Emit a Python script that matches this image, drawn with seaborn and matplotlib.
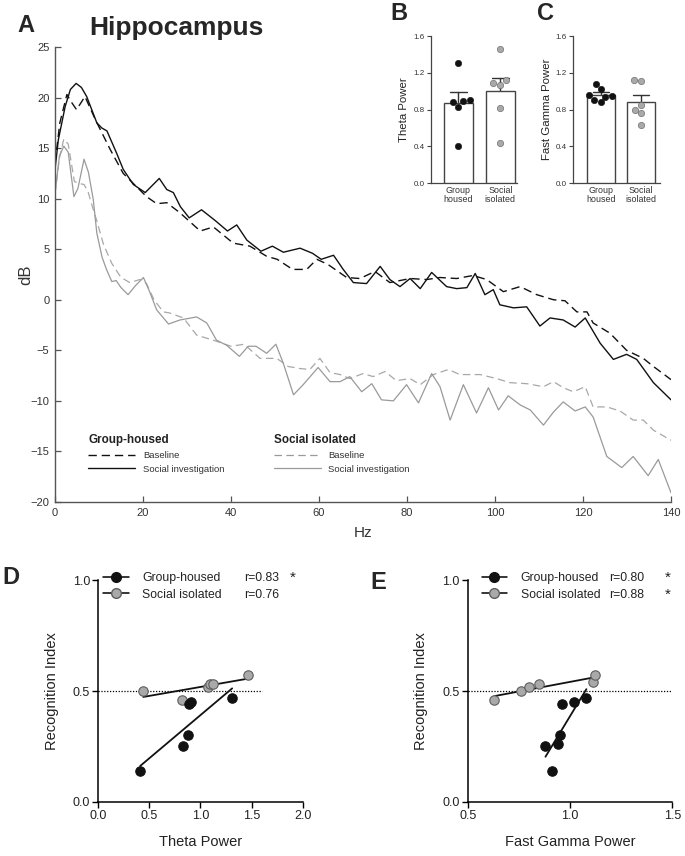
import matplotlib
matplotlib.use("Agg")
import matplotlib.pyplot as plt
from matplotlib.lines import Line2D
import pandas as pd
import seaborn as sns

# ---- panel A: hippocampal spectra (Hz, dB)
gh_base_hz = [0, 1.1, 2.7, 3.8, 4.9, 6.8, 9.3, 12.5, 15.5, 17.8, 20.8, 23.1, 25.4, 28.4, 33, 36, 40.5, 44.3,
              48.1, 50.5, 54, 57.2, 59.5, 62, 66.3, 69.3, 72.7, 76.1, 80.7, 84.5, 87.5, 91.3, 95, 98.1, 101.9,
              105.7, 109.5, 113.3, 115.9, 118.6, 120.9, 122.3, 126.1, 129.9, 133.7, 136, 140]
gh_base_db = [13.5, 17.5, 20.3, 19.5, 18.8, 20.1, 17.7, 14.9, 12.5, 11.5, 10.2, 9.5, 9.6, 8.6, 6.8, 7.2, 5.6, 5.3,
              4.3, 4.0, 3.0, 3.0, 4.0, 3.5, 2.2, 2.1, 2.8, 1.7, 2.1, 2.0, 2.2, 2.1, 2.4, 2.0, 0.8,
              1.3, 0.5, 0.0, -0.1, -1.2, -1.2, -2.3, -3.3, -5.0, -5.8, -6.6, -7.9]

gh_soc_hz = [0, 0.75, 2.3, 3.5, 4.8, 6, 7.2, 9.5, 10.6, 11.8, 14, 15.5, 17.8, 20.5, 23.7, 25.4, 26.9, 28.5, 30.5,
             33.3, 36.5, 39.2, 41.3, 43.6, 46.8, 49.4, 51.9, 55.7, 58.5, 60.5, 63.3, 65.5, 67.8, 70.8, 73.9, 76.1,
             78.4, 80.7, 83, 85.6, 89, 91.3, 93.6, 95.5, 97.7, 99.6, 101.1, 104.2, 107.2, 110.2, 112.5, 115.5,
             118.2, 120.5, 123.9, 126.9, 129.9, 132.2, 136, 140]
gh_soc_db = [12.9, 15.8, 19.1, 20.8, 21.4, 21.0, 20.1, 17.5, 17.0, 16.7, 14.5, 12.9, 11.4, 10.6, 12.0, 10.9, 10.6,
             9.2, 8.1, 8.9, 7.8, 6.8, 7.4, 5.9, 4.8, 5.3, 4.7, 5.1, 4.6, 4.0, 4.4, 3.0, 1.7, 1.6, 3.3, 2.0,
             1.3, 2.1, 1.1, 2.7, 1.3, 1.1, 1.2, 2.6, 0.5, 1.0, -0.5, -0.8, -0.7, -2.6, -1.8, -2.0,
             -2.7, -1.8, -4.3, -5.9, -5.4, -5.9, -8.2, -9.9]

si_base_hz = [0, 1, 2, 3, 4.4, 5.5, 6.6, 7.5, 8.5, 9.5, 11, 12.9, 15, 17, 19.3, 20.8, 22.5, 24.6, 26, 29.2, 32.2,
              36.7, 40, 43, 46.6, 50.4, 53, 55.6, 57.9, 60.2, 62.5, 64.8, 67, 70, 72.3, 75, 77.6, 80.7, 83, 86,
              89.4, 92, 96.6, 100.4, 103.4, 107.2, 111, 113.3, 115.5, 117.8, 120.5, 122.3, 125.4, 128.4, 131.4,
              133.7, 136, 140]
si_base_db = [10.5, 14.0, 15.9, 15.4, 11.7, 11.5, 11.4, 10.7, 9.2, 7.8, 5.5, 3.6, 2.2, 1.7, 2.0, 1.6, 0.0, -1.2,
              -1.3, -1.8, -3.5, -4.1, -4.6, -4.4, -5.8, -5.8, -6.6, -6.8, -6.9, -5.8, -7.2, -7.4, -7.8, -7.3,
              -7.6, -7.1, -8.0, -7.8, -8.4, -7.4, -6.9, -7.4, -7.4, -7.8, -8.2, -8.3, -8.6, -8.1, -8.7, -9.1,
              -8.6, -10.6, -10.6, -11.0, -11.9, -11.9, -12.9, -13.9]

si_soc_hz = [0, 1, 2, 3, 4.3, 5.2, 6.6, 7.6, 8.7, 9.5, 10.7, 11.7, 12.9, 13.9, 15, 16.6, 18.3, 20.1, 21.5, 23.1,
             25.8, 28.4, 32.2, 34.5, 36.7, 39, 41.9, 43.9, 45.7, 48.1, 50.2, 51.9, 54.2, 56.4, 59.8, 62.5, 64.8,
             67, 69.7, 72, 74.2, 76.9, 79.9, 82.6, 85.6, 87.5, 89.8, 92.8, 95.8, 98.5, 100.8, 103, 105.7, 108,
             111, 113.3, 115.5, 118.2, 120.5, 122.3, 125.4, 128.8, 131.4, 134.8, 137.1, 140]
si_soc_db = [10.5, 14.2, 15.2, 14.6, 10.2, 11.0, 13.9, 12.6, 9.9, 6.6, 4.2, 3.0, 1.8, 1.9, 1.2, 0.5, 1.4, 2.2,
             0.8, -1.0, -2.4, -2.0, -1.7, -2.3, -4.0, -4.5, -5.6, -4.6, -4.6, -5.3, -4.4, -6.3, -9.4, -8.4,
             -6.7, -8.1, -8.1, -7.6, -9.1, -8.3, -9.9, -10.0, -8.4, -10.2, -7.3, -8.6, -11.9, -8.4, -11.2,
             -8.7, -10.9, -9.5, -10.4, -10.9, -12.4, -11.1, -10.1, -11.0, -10.6, -11.6, -15.5, -16.6, -15.5,
             -17.4, -15.8, -19.1]

# ---- panels B-E: per animal values
groups = ["Group\nhoused", "Social\nisolated"]
gh_theta = [0.41, 0.83, 0.88, 0.89, 0.91, 1.31]
si_theta = [0.44, 0.82, 1.07, 1.09, 1.12, 1.46]
gh_gamma = [0.88, 0.91, 0.94, 0.95, 0.96, 1.02, 1.08]
si_gamma = [0.63, 0.76, 0.80, 0.85, 1.11, 1.12]
gh_ri_theta = [0.14, 0.25, 0.30, 0.44, 0.45, 0.47]
si_ri_theta = [0.50, 0.46, 0.52, 0.53, 0.53, 0.57]
gh_ri_gamma = [0.25, 0.14, 0.26, 0.30, 0.44, 0.45, 0.47]
si_ri_gamma = [0.46, 0.50, 0.52, 0.53, 0.54, 0.57]
r_theta = ["r=0.83", "r=0.76"]
r_gamma = ["r=0.80", "r=0.88"]
sig_theta = ["*", ""]
sig_gamma = ["*", "*"]
chance = 0.5

BLACK = "#111111"
GRAY_LINE = "#9a9a9a"
GRAY_DASH = "#a8a8a8"
GRAY_DOT = "#a9a9a9"
GRAY_EDGE = "#5e5e5e"
AX_COL = "#555555"

sns.set_theme(style="ticks")
plt.rcParams["font.family"] = ["Liberation Sans", "DejaVu Sans"]

fig = plt.figure(figsize=(6.85, 8.56), dpi=100)

# ================= A =================
axA = fig.add_axes([0.0803, 0.4136, 0.8993, 0.5315])
sns.lineplot(x=gh_base_hz, y=gh_base_db, color=BLACK, lw=1.0, ax=axA)
axA.lines[-1].set_dashes([6, 3.5])
sns.lineplot(x=gh_soc_hz, y=gh_soc_db, color=BLACK, lw=1.0, ax=axA)
sns.lineplot(x=si_base_hz, y=si_base_db, color=GRAY_DASH, lw=0.9, ax=axA)
axA.lines[-1].set_dashes([6, 3.5])
sns.lineplot(x=si_soc_hz, y=si_soc_db, color=GRAY_LINE, lw=0.9, ax=axA)

axA.set_xlim(0, 140)
axA.set_ylim(-20, 25)
axA.set_xticks(range(0, 141, 20))
axA.set_yticks(range(-20, 26, 5))
sns.despine(ax=axA)
for s in ["left", "bottom"]:
    axA.spines[s].set_color(AX_COL)
    axA.spines[s].set_linewidth(1.0)
axA.tick_params(direction="in", length=4, width=0.9, color=AX_COL, labelsize=8, labelcolor="#333333", pad=4)
axA.set_xlabel("Hz", fontsize=11, color="#333333", labelpad=6)
axA.set_ylabel("dB", fontsize=12, color="#333333")
axA.yaxis.set_label_coords(-0.036, 0.5)

def spectra_legend(x, title, color, lw):
    h1 = Line2D([0], [0], color=color, lw=lw, dashes=[6, 3.5])
    h2 = Line2D([0], [0], color=color, lw=lw)
    leg = axA.legend([h1, h2], ["Baseline", "Social investigation"], title=title, loc="upper left",
                     bbox_to_anchor=(x, 0.149), frameon=False, fontsize=6.8,
                     title_fontproperties={"weight": "bold", "size": 8.4}, alignment="left",
                     handlelength=5.0, handletextpad=0.8, labelspacing=0.5, borderpad=0, borderaxespad=0)
    for t in leg.get_texts():
        t.set_color("#333333")
    leg.get_title().set_color("#222222")
    return leg

legA1 = spectra_legend(0.054, "Group-housed", BLACK, 1.0)
axA.add_artist(legA1)
spectra_legend(0.355, "Social isolated", GRAY_LINE, 0.9)

fig.text(0.038, 0.970, "A", fontsize=17, fontweight="bold", ha="center", va="center")
fig.text(0.257, 0.967, "Hippocampus", fontsize=19, fontweight="bold", ha="center", va="center")

# ================= B / C =================
def bar_panel(rect, gh_vals, si_vals, ylabel, xlim):
    ax = fig.add_axes(rect)
    df = pd.DataFrame({"group": [groups[0]] * len(gh_vals) + [groups[1]] * len(si_vals),
                       "value": list(gh_vals) + list(si_vals)})
    sns.barplot(data=df, x="group", y="value", order=groups, errorbar="se", capsize=0.4, width=0.7,
                color="white", edgecolor="#444444", linewidth=1.0,
                err_kws={"color": "#333333", "linewidth": 1.0}, ax=ax)
    for p in ax.patches:
        p.set_facecolor("white")
        p.set_zorder(3)
    for ln in ax.lines:
        ln.set_zorder(2)
    sns.swarmplot(data=df[df["group"] == groups[0]], x="group", y="value", order=groups, color=BLACK,
                  size=4.6, edgecolor=BLACK, linewidth=0.4, zorder=4, ax=ax)
    sns.swarmplot(data=df[df["group"] == groups[1]], x="group", y="value", order=groups, color=GRAY_DOT,
                  size=4.6, edgecolor=GRAY_EDGE, linewidth=0.4, zorder=4, ax=ax)
    ax.set_xlim(*xlim)
    ax.set_ylim(0, 1.6)
    ax.set_yticks([0, 0.4, 0.8, 1.2, 1.6])
    ax.set_yticklabels(["0.0", "0.4", "0.8", "1.2", "1.6"])
    sns.despine(ax=ax)
    for s in ["left", "bottom"]:
        ax.spines[s].set_color("#444444")
        ax.spines[s].set_linewidth(0.9)
    ax.tick_params(axis="y", direction="out", length=3, width=0.8, color="#444444", labelsize=5.8,
                   labelcolor="#333333", pad=1.5)
    ax.tick_params(axis="x", length=0, labelsize=6.4, labelcolor="#333333", pad=2)
    ax.set_xlabel("")
    ax.set_ylabel(ylabel, fontsize=8.2, color="#222222", labelpad=3)
    for t in ax.get_xticklabels():
        t.set_linespacing(1.0)
    return ax

bar_panel([0.6288, 0.7859, 0.1255, 0.172], gh_theta, si_theta, "Theta Power", (-0.66, 1.39))
bar_panel([0.837, 0.7859, 0.1266, 0.172], gh_gamma, si_gamma, "Fast Gamma Power", (-0.68, 1.47))
fig.text(0.582, 0.984, "B", fontsize=17, fontweight="bold", ha="center", va="center")
fig.text(0.796, 0.984, "C", fontsize=17, fontweight="bold", ha="center", va="center")

# ================= D / E =================
def corr_panel(rect, gh_x, gh_y, si_x, si_y, xlim, xticks, xlabel, rvals, sigs, chance_end, leg_x, r_x, s_x):
    ax = fig.add_axes(rect)
    sns.regplot(x=gh_x, y=gh_y, scatter=False, ci=None, truncate=True, color=BLACK,
                line_kws={"lw": 1.3, "zorder": 3}, ax=ax)
    sns.regplot(x=si_x, y=si_y, scatter=False, ci=None, truncate=True, color=BLACK,
                line_kws={"lw": 1.3, "zorder": 3}, ax=ax)
    sns.scatterplot(x=si_x, y=si_y, color=GRAY_DOT, edgecolor=GRAY_EDGE, linewidth=0.8, s=46, zorder=4, ax=ax)
    sns.scatterplot(x=gh_x, y=gh_y, color=BLACK, edgecolor=BLACK, linewidth=0.8, s=46, zorder=5, ax=ax)
    ax.hlines(chance, xlim[0], chance_end, colors="black", linestyles=(0, (1, 1.3)), lw=0.9, zorder=2)
    ax.set_xlim(*xlim)
    ax.set_ylim(0, 1.0)
    ax.set_xticks(xticks)
    ax.set_xticklabels([f"{v:.1f}" for v in xticks])
    ax.set_yticks([0, 0.5, 1.0])
    ax.set_yticklabels(["0.0", "0.5", "1.0"])
    sns.despine(ax=ax)
    for s in ["left", "bottom"]:
        ax.spines[s].set_color("black")
        ax.spines[s].set_linewidth(1.1)
    ax.tick_params(direction="out", length=4, width=1.0, color="black", labelsize=9, labelcolor="#222222",
                   pad=2)
    ax.set_xlabel(xlabel, fontsize=10.5, color="#222222", labelpad=9)
    ax.set_ylabel("Recognition Index", fontsize=10.5, color="#222222", labelpad=10)
    h1 = Line2D([0], [0], color="black", lw=1.1, marker="o", markersize=7, markerfacecolor=BLACK,
                markeredgecolor=BLACK)
    h2 = Line2D([0], [0], color="black", lw=1.1, marker="o", markersize=7, markerfacecolor=GRAY_DOT,
                markeredgecolor=GRAY_EDGE)
    leg = ax.legend([h1, h2], ["Group-housed", "Social isolated"], loc="upper left",
                    bbox_to_anchor=(leg_x, 1.035), frameon=False, fontsize=8.8, handlelength=2.1,
                    handletextpad=1.1, labelspacing=0.35, borderpad=0, borderaxespad=0)
    for t in leg.get_texts():
        t.set_color("#222222")
    fig.canvas.draw()
    for txt, r, sg in zip(leg.get_texts(), rvals, sigs):
        bb = txt.get_window_extent().transformed(ax.transAxes.inverted())
        ymid = (bb.y0 + bb.y1) / 2
        ax.text(r_x, ymid, r, transform=ax.transAxes, fontsize=8.8, va="center", ha="left", color="#222222")
        if sg:
            ax.text(s_x, ymid, sg, transform=ax.transAxes, fontsize=11, va="center", ha="center",
                    color="#222222")
    return ax

corr_panel([0.1435, 0.0631, 0.2984, 0.2593], gh_theta, gh_ri_theta, si_theta, si_ri_theta, (0, 2.0),
           [0, 0.5, 1.0, 1.5, 2.0], "Theta Power", r_theta, sig_theta, 1.6, 0.023, 0.713, 0.952)
corr_panel([0.6828, 0.0631, 0.2987, 0.2593], gh_gamma, gh_ri_gamma, si_gamma, si_ri_gamma, (0.5, 1.5),
           [0.5, 1.0, 1.5], "Fast Gamma Power", r_gamma, sig_gamma, 1.5, 0.068, 0.69, 0.979)
fig.text(0.016, 0.325, "D", fontsize=17, fontweight="bold", ha="center", va="center")
fig.text(0.552, 0.320, "E", fontsize=17, fontweight="bold", ha="center", va="center")

fig.savefig("out.png", dpi=100)
